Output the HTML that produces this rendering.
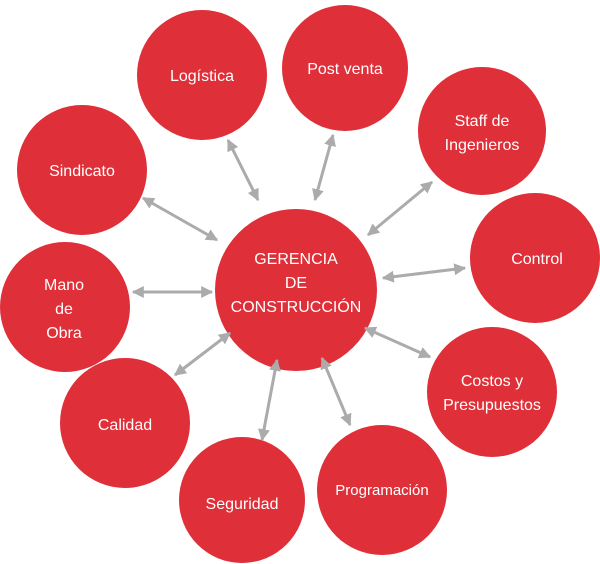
<!DOCTYPE html>
<html><head><meta charset="utf-8"><style>
html,body{margin:0;padding:0;background:#fff;}
svg{display:block;}
text{font-family:"Liberation Sans",sans-serif;fill:#fff;font-size:16px;text-anchor:middle;}
</style></head><body>
<svg width="600" height="564" viewBox="0 0 600 564">
<defs>
<marker id="a" viewBox="0 0 10 10" refX="9" refY="5" markerWidth="4" markerHeight="4" orient="auto-start-reverse">
<path d="M0,0 L10,5 L0,10 z" fill="#ababab"/></marker>
</defs>
<g fill="#df2f38">
<circle cx="296" cy="290" r="81"/>
<circle cx="202" cy="75" r="65"/>
<circle cx="345" cy="68" r="63"/>
<circle cx="482" cy="131" r="64"/>
<circle cx="535" cy="258" r="65"/>
<circle cx="492" cy="392" r="65"/>
<circle cx="382" cy="490" r="65"/>
<circle cx="242" cy="500" r="63"/>
<circle cx="125" cy="423" r="65"/>
<circle cx="65" cy="307" r="65"/>
<circle cx="82" cy="170" r="65"/>
</g>
<g stroke="#ababab" stroke-width="3" marker-start="url(#a)" marker-end="url(#a)">
<line x1="228" y1="140" x2="258" y2="200"/>
<line x1="333" y1="135" x2="315" y2="200"/>
<line x1="432" y1="182" x2="368" y2="235"/>
<line x1="383" y1="278" x2="465" y2="268"/>
<line x1="365" y1="328" x2="430" y2="357"/>
<line x1="322" y1="358" x2="350" y2="425"/>
<line x1="277" y1="360" x2="262" y2="440"/>
<line x1="230" y1="333" x2="175" y2="375"/>
<line x1="133" y1="292" x2="212" y2="292"/>
<line x1="143" y1="198" x2="217" y2="240"/>
</g>
<text x="296" y="264">GERENCIA</text>
<text x="296" y="288">DE</text>
<text x="296" y="312">CONSTRUCCIÓN</text>
<text x="202" y="81">Logística</text>
<text x="345" y="74">Post venta</text>
<text x="482" y="126">Staff de</text>
<text x="482" y="150">Ingenieros</text>
<text x="537" y="264">Control</text>
<text x="492" y="386">Costos y</text>
<text x="492" y="410">Presupuestos</text>
<text x="382" y="495" style="font-size:15px">Programación</text>
<text x="242" y="509">Seguridad</text>
<text x="125" y="430">Calidad</text>
<text x="64" y="290">Mano</text>
<text x="64" y="314">de</text>
<text x="64" y="338">Obra</text>
<text x="82" y="176">Sindicato</text>
</svg>
</body></html>
